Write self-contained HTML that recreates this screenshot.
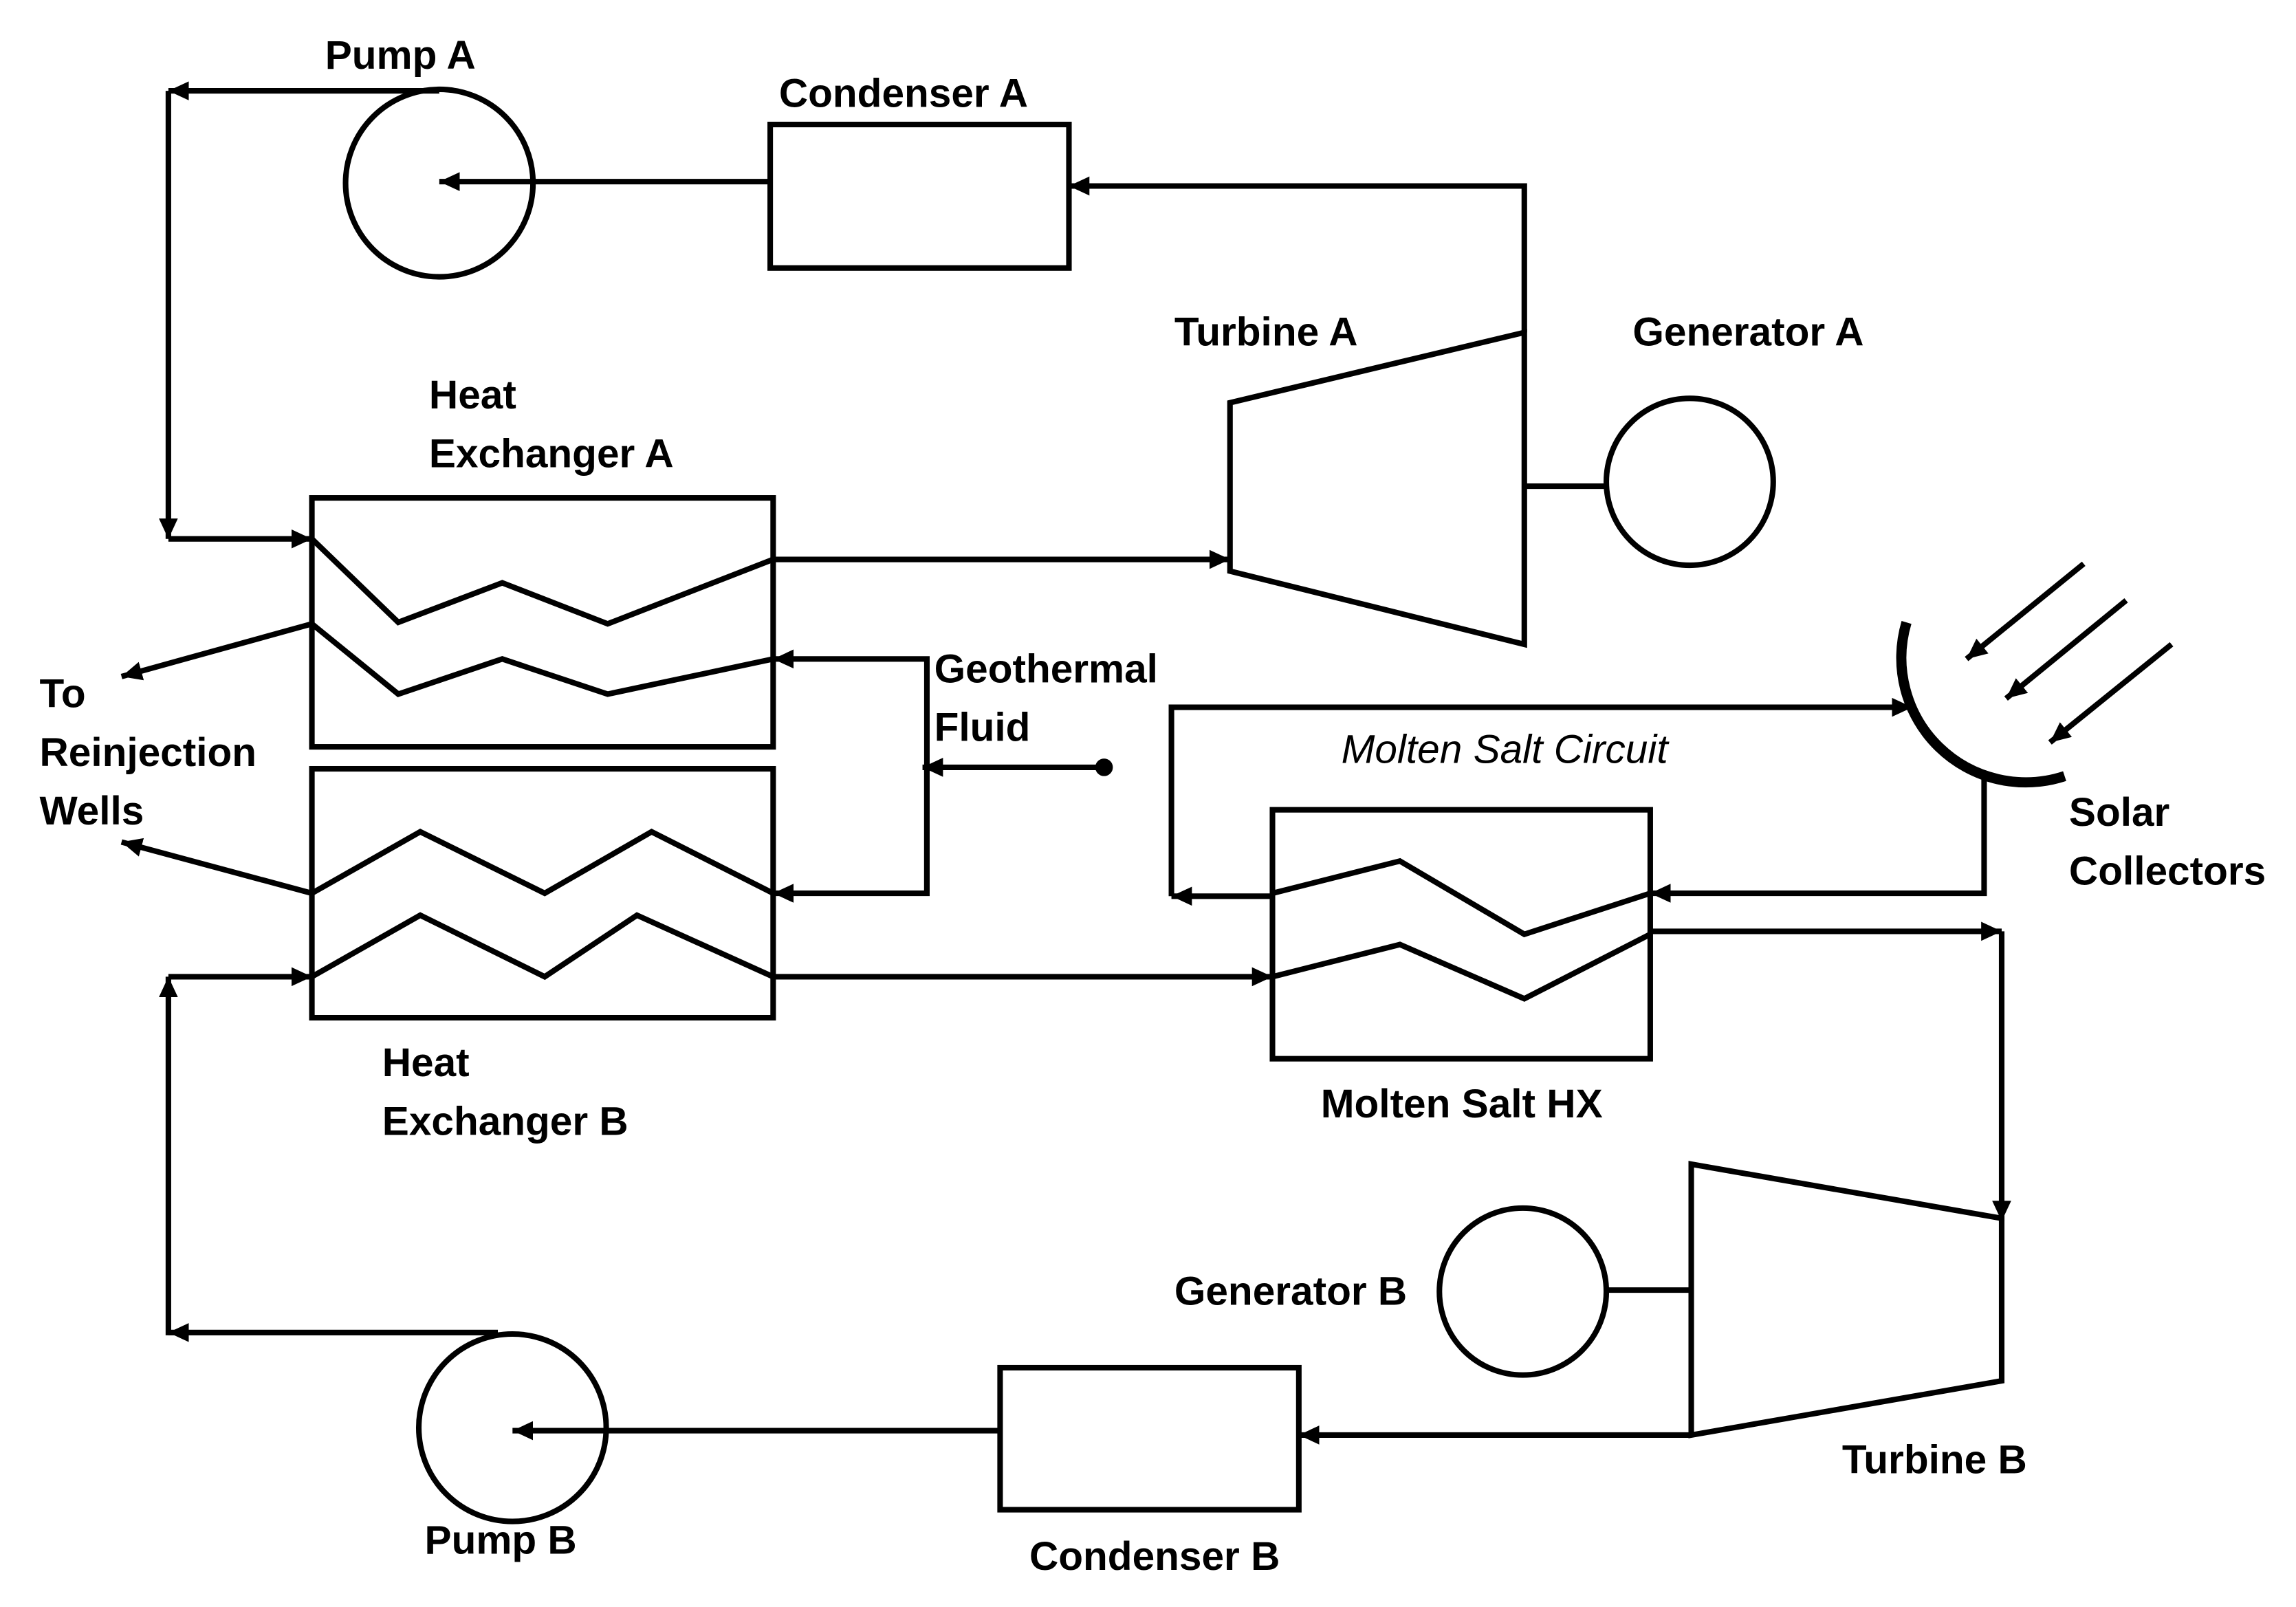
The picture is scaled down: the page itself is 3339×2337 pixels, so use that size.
<!DOCTYPE html>
<html><head><meta charset="utf-8"><style>
html,body{margin:0;padding:0;background:#fff;}
svg{display:block;}
text{font-family:"Liberation Sans",sans-serif;font-weight:bold;font-size:27.5px;fill:#000;}
</style></head><body>
<svg width="3339" height="2337" viewBox="0 0 1568 1097.4" xmlns="http://www.w3.org/2000/svg">
<defs>
<marker id="a" markerUnits="userSpaceOnUse" markerWidth="16" markerHeight="14" refX="14" refY="6.5" orient="auto">
<path d="M0,0 L14,6.5 L0,13 Z" fill="#000"/>
</marker>
</defs>
<g fill="none" stroke="#000" stroke-width="3.8">
<circle cx="300" cy="125" r="64"/>
<rect x="526" y="85" width="204" height="98"/>
<line x1="526" y1="124" x2="300" y2="124" marker-end="url(#a)"/>
<polyline points="1041,227 1041,127 730,127" marker-end="url(#a)"/>
<polygon points="840,275 1041,227 1041,440 840,390"/>
<circle cx="1154" cy="329" r="57"/>
<line x1="1041" y1="332" x2="1097" y2="332"/>
<line x1="300" y1="62" x2="115" y2="62" marker-end="url(#a)"/>
<polyline points="115,62 115,368" marker-end="url(#a)"/>
<line x1="115" y1="368" x2="213" y2="368" marker-end="url(#a)"/>
<rect x="213" y="340" width="315" height="170"/>
<polyline points="213,368 272,425 343,398 415,426 528,382"/>
<line x1="528" y1="382" x2="840" y2="382" marker-end="url(#a)"/>
<polyline points="213,426 272,474 343,450 415,474 528,450"/>
<line x1="213" y1="426" x2="83" y2="462" marker-end="url(#a)"/>
<polyline points="633,610 633,450 528,450" marker-end="url(#a)"/>
<polyline points="633,524 633,610 528,610" marker-end="url(#a)"/>
<line x1="754" y1="524" x2="630" y2="524" marker-end="url(#a)"/>
<rect x="213" y="525" width="315" height="170"/>
<polyline points="213,610 287,568 372,610 445,568 528,610"/>
<line x1="213" y1="610" x2="83" y2="575" marker-end="url(#a)"/>
<polyline points="213,667 287,625 372,667 435,625 528,667"/>
<line x1="528" y1="667" x2="869" y2="667" marker-end="url(#a)"/>
<line x1="115" y1="667" x2="213" y2="667" marker-end="url(#a)"/>
<polyline points="340,910 115,910 115,667" marker-end="url(#a)"/>
<line x1="340" y1="910" x2="115" y2="910" marker-end="url(#a)"/>
<circle cx="350" cy="975" r="64"/>
<rect x="683" y="934" width="204" height="97"/>
<line x1="683" y1="977" x2="350" y2="977" marker-end="url(#a)"/>
<polygon points="1155,795 1367,832 1367,943 1155,980"/>
<line x1="1155" y1="980" x2="887" y2="980" marker-end="url(#a)"/>
<circle cx="1040" cy="882" r="57"/>
<line x1="1097" y1="881" x2="1155" y2="881"/>
<rect x="869" y="553" width="258" height="170"/>
<polyline points="869,610 956,588 1041,638 1127,610"/>
<polyline points="869,667 956,645 1041,682 1127,638"/>
<line x1="869" y1="612" x2="800" y2="612" marker-end="url(#a)"/>
<polyline points="800,612 800,483 1306,483" marker-end="url(#a)"/>
<polyline points="1355,532 1355,610 1127,610" marker-end="url(#a)"/>
<polyline points="1127,636 1367,636" marker-end="url(#a)"/>
<polyline points="1367,636 1367,834" marker-end="url(#a)"/>
<line x1="1423" y1="385" x2="1343" y2="450" marker-end="url(#a)"/>
<line x1="1452" y1="410" x2="1370" y2="477" marker-end="url(#a)"/>
<line x1="1483" y1="440" x2="1400" y2="507" marker-end="url(#a)"/>
</g>
<path d="M1302,425 A85,85 0 0 0 1410,530" fill="none" stroke="#000" stroke-width="7"/>
<circle cx="754" cy="524" r="6" fill="#000"/>
<text x="222" y="47">Pump A</text>
<text x="532" y="73">Condenser A</text>
<text x="802" y="236">Turbine A</text>
<text x="1115" y="236">Generator A</text>
<text x="293" y="279">Heat</text>
<text x="293" y="319">Exchanger A</text>
<text x="27" y="483">To</text>
<text x="27" y="523">Reinjection</text>
<text x="27" y="563">Wells</text>
<text x="638" y="466">Geothermal</text>
<text x="638" y="506">Fluid</text>
<text x="916" y="521" font-style="italic" style="font-weight:normal">Molten Salt Circuit</text>
<text x="1413" y="564">Solar</text>
<text x="1413" y="604">Collectors</text>
<text x="261" y="735">Heat</text>
<text x="261" y="775">Exchanger B</text>
<text x="902" y="763">Molten Salt HX</text>
<text x="802" y="891">Generator B</text>
<text x="1258" y="1006">Turbine B</text>
<text x="290" y="1061">Pump B</text>
<text x="703" y="1072">Condenser B</text>
</svg>
</body></html>
